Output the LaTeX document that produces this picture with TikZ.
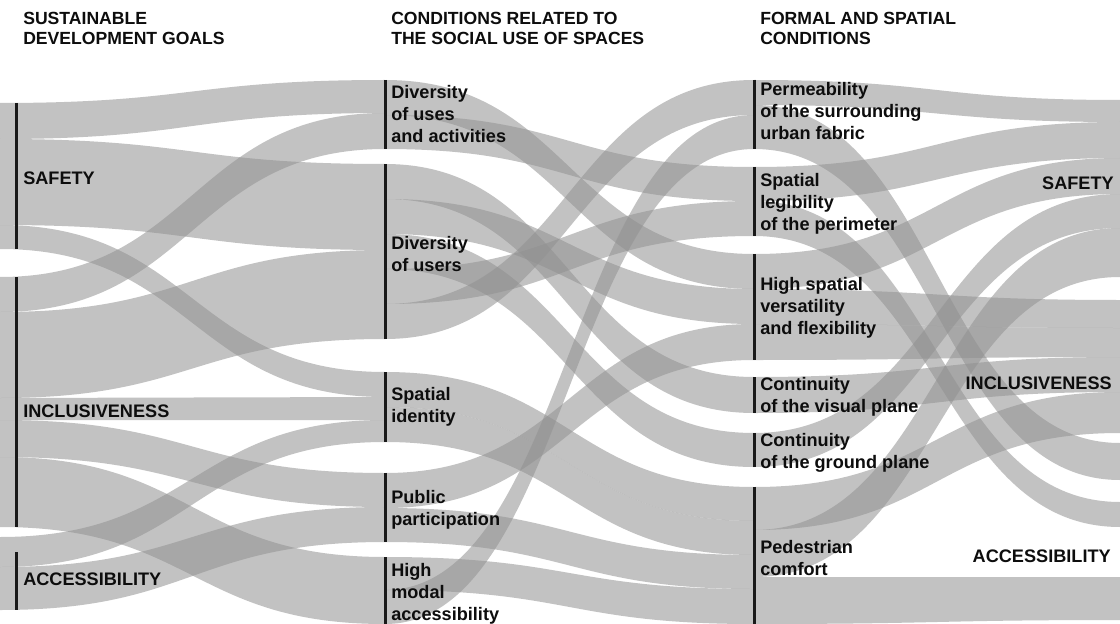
\documentclass[tikz,border=0pt]{standalone}
\usepackage{fontspec}
\setmainfont{Liberation Sans}
% ribbon from (x1, y1..y2) to (x2, y3..y4), S-shaped edges
\newcommand{\flowband}[6]{%
  \fill[band] (#1,#2) .. controls ({(#1+#4)/2},#2) and ({(#1+#4)/2},#5) .. (#4,#5)
    -- (#4,#6) .. controls ({(#1+#4)/2},#6) and ({(#1+#4)/2},#3) .. (#1,#3) -- cycle;}
\begin{document}
\begin{tikzpicture}[x=0.75pt,y=-0.75pt,
  band/.style={fill=black!43,fill opacity=0.55},
  bar/.style={line width=2.6pt,draw=black!90},
  lab/.style={inner sep=0pt,anchor=north west,align=left,
    font=\fontsize{13.6}{16.6}\selectfont\bfseries,text=black!95},
  head/.style={lab,font=\fontsize{13.2}{15}\selectfont\bfseries},
  rlab/.style={lab,anchor=north east,align=right}]
\useasboundingbox (0,0) rectangle (1120,624);
\fill[white] (0,0) rectangle (1120,624);

% ---- goals -> social-use conditions
\flowband{0}{103}{139}{385}{80}{113}
\flowband{0}{139}{225}{385}{164}{250}
\flowband{0}{225}{249}{385}{372}{397}
\flowband{0}{277}{312}{385}{113}{149}
\flowband{0}{312}{398}{385}{250}{339}
\flowband{0}{398}{420}{385}{397}{420}
\flowband{0}{420}{457}{385}{473}{507}
\flowband{0}{457}{527}{385}{557}{624}
\flowband{0}{537}{567}{385}{420}{442}
\flowband{0}{567}{610}{385}{507}{542}

% ---- social-use conditions -> formal and spatial conditions
\flowband{385}{80}{115}{754}{254}{289}
\flowband{385}{115}{149}{754}{167}{201}
\flowband{385}{164}{199}{754}{377}{413}
\flowband{385}{199}{234}{754}{289}{324}
\flowband{385}{234}{269}{754}{433}{467}
\flowband{385}{269}{304}{754}{201}{236}
\flowband{385}{304}{339}{754}{80}{115}
\flowband{385}{372}{407}{754}{487}{521}
\flowband{385}{407}{442}{754}{521}{555}
\flowband{385}{473}{508}{754}{324}{360}
\flowband{385}{508}{542}{754}{555}{589}
\flowband{385}{557}{590}{754}{589}{624}
\flowband{385}{590}{624}{754}{115}{149}

% ---- formal and spatial conditions -> goals
\flowband{754}{80}{105}{1120}{100}{122}
\flowband{754}{105}{149}{1120}{443}{480}
\flowband{754}{167}{201}{1120}{122}{158}
\flowband{754}{201}{236}{1120}{502}{527}
\flowband{754}{254}{289}{1120}{158}{194}
\flowband{754}{289}{324}{1120}{300}{328}
\flowband{754}{324}{360}{1120}{328}{357}
\flowband{754}{377}{413}{1120}{357}{392}
\flowband{754}{433}{467}{1120}{194}{228}
\flowband{754}{487}{530}{1120}{392}{433}
\flowband{754}{530}{577}{1120}{228}{277}
\flowband{754}{577}{624}{1120}{577}{620}

% ---- node bars
\draw[bar] (16.5,103) -- (16.5,249);
\draw[bar] (16.5,277) -- (16.5,527);
\draw[bar] (16.5,552) -- (16.5,610);
\draw[bar] (385.5,80) -- (385.5,149);
\draw[bar] (385.5,164) -- (385.5,339);
\draw[bar] (385.5,372) -- (385.5,442);
\draw[bar] (385.5,473) -- (385.5,542);
\draw[bar] (385.5,557) -- (385.5,624);
\draw[bar] (754.5,80) -- (754.5,149);
\draw[bar] (754.5,167) -- (754.5,236);
\draw[bar] (754.5,254) -- (754.5,360);
\draw[bar] (754.5,377) -- (754.5,413);
\draw[bar] (754.5,433) -- (754.5,467);
\draw[bar] (754.5,487) -- (754.5,624);

% ---- column headings
\node[head] (h1) at (23,12) {SUSTAINABLE\\DEVELOPMENT GOALS};
\node[head] (h2) at (391,12) {CONDITIONS RELATED TO\\THE SOCIAL USE OF SPACES};
\node[head] (h3) at (760,12) {FORMAL AND SPATIAL\\CONDITIONS};

% ---- goal labels, left
\node[lab] (gs) at (23,172) {SAFETY};
\node[lab] (gi) at (23,405) {INCLUSIVENESS};
\node[lab] (ga) at (23,573) {ACCESSIBILITY};

% ---- social-use labels
\node[lab] (c1) at (391,85) {Diversity\\of uses\\and activities};
\node[lab] (c2) at (391,236) {Diversity\\of users};
\node[lab] (c3) at (391,387) {Spatial\\identity};
\node[lab] (c4) at (391,490) {Public\\participation};
\node[lab] (c5) at (391,563) {High\\modal\\accessibility};

% ---- formal and spatial labels
\node[lab] (f1) at (760,82) {Permeability\\of the surrounding\\urban fabric};
\node[lab] (f2) at (760,173) {Spatial\\legibility\\of the perimeter};
\node[lab] (f3) at (760,277) {High spatial\\versatility\\and flexibility};
\node[lab] (f4) at (760,377) {Continuity\\of the visual plane};
\node[lab] (f5) at (760,433) {Continuity\\of the ground plane};
\node[lab] (f6) at (760,540) {Pedestrian\\comfort};

% ---- goal labels, right
\node[rlab] (rs) at (1114,177) {SAFETY};
\node[rlab] (ri) at (1112,377) {INCLUSIVENESS};
\node[rlab] (ra) at (1111,550) {ACCESSIBILITY};
\end{tikzpicture}
\end{document}
